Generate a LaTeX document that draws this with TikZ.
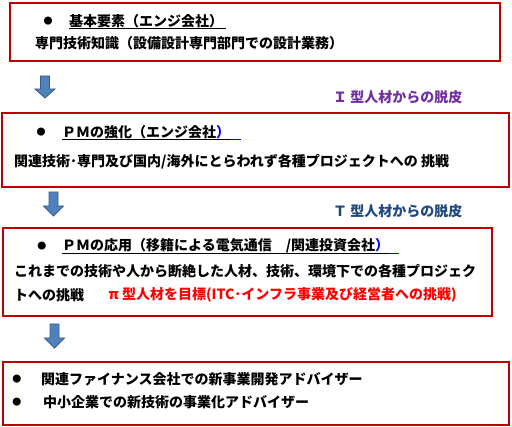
\documentclass[tikz,border=0pt]{standalone}
\usepackage{fontspec}
\setmainfont{Noto Sans CJK JP}
\usetikzlibrary{positioning}
\definecolor{boxred}{RGB}{192,0,0}
\definecolor{arrfill}{RGB}{79,129,189}
\definecolor{arrline}{RGB}{56,93,138}
\definecolor{lblpurple}{RGB}{112,48,160}
\definecolor{lblblue}{RGB}{31,73,125}
\definecolor{parenblue}{RGB}{0,0,255}
\tikzset{redbox/.style={draw=boxred, line width=2.5pt},
  blkarrow/.style={fill=arrfill, draw=arrline, line width=0.8pt},
  txt/.style={anchor=west, inner sep=0pt, font=\bfseries\fontsize{14}{16}\selectfont},
  bul/.style={inner sep=0pt, font=\fontsize{9}{10}\selectfont},
  uline/.style={line width=0.7pt}}

\begin{document}
\begin{tikzpicture}[x=1pt, y=-1pt]
  \useasboundingbox (0,0) rectangle (512,427);

  \draw[redbox] (10,3) rectangle (500,61);
  \node[bul] (b1dot) at (48,21) {●};
  \node[txt] (b1head) at (69,21) {基本要素（エンジ会社）};
  \draw[uline] (b1head.south west) -- ([xshift=3pt]b1head.south east);
  \node[txt] (b1line) at (35,43) {専門技術知識（設備設計専門部門での設計業務）};

  \draw[blkarrow] (40.5,76) -- ++(9,0) -- ++(0,13) -- ++(5.5,0) -- ++(-10,9) -- ++(-10,-9) -- ++(5.5,0) -- cycle;
  \node[txt, text=lblpurple] (lbl1) at (333,97) {Ｉ 型人材からの脱皮};

  \draw[redbox] (2,113) rectangle (509,187);
  \node[bul] (b2dot) at (41,132) {●};
  \node[txt] (b2head) at (62,132) {ＰＭの強化（エンジ会社\textcolor{parenblue}{）}};
  \draw[uline] (b2head.south west) -- (b2head.south east);
  \draw[uline, parenblue] (b2head.south east) -- ++(11,0);
  \node[txt] (b2line) at (14,162) {関連技術･専門及び国内/海外にとらわれず各種プロジェクトへの 挑戦};

  \draw[blkarrow] (49,192) -- ++(9,0) -- ++(0,14) -- ++(5.5,0) -- ++(-10,10) -- ++(-10,-10) -- ++(5.5,0) -- cycle;
  \node[txt, text=lblblue] (lbl2) at (333,211) {Ｔ 型人材からの脱皮};

  \draw[redbox] (3,228) rectangle (492,316);
  \node[bul] (b3dot) at (42,246) {●};
  \node[txt] (b3head) at (62,246) {ＰＭの応用（移籍による電気通信　/関連投資会社\textcolor{parenblue}{）}};
  \draw[uline] (b3head.south west) -- (b3head.south east);
  \draw[uline, parenblue] (b3head.south east) -- ++(10,0);
  \node[txt] (b3line) at (14,271) {これまでの技術や人から断絶した人材、技術、環境下での各種プロジェク};
  \node[txt] (b3tail) at (14,295) {トへの挑戦};
  \node[txt, text=red, right=24pt of b3tail] (b3goal) {π 型人材を目標(ITC･インフラ事業及び経営者への挑戦)};

  \draw[blkarrow] (50,324) -- ++(9,0) -- ++(0,14) -- ++(5.5,0) -- ++(-10,10) -- ++(-10,-10) -- ++(5.5,0) -- cycle;

  \draw[redbox] (3,362) rectangle (509,425);
  \node[bul] (b4dota) at (17,379) {●};
  \node[txt] (b4linea) at (41,379) {関連ファイナンス会社での新事業開発アドバイザー};
  \node[bul] (b4dotb) at (17,402) {●};
  \node[txt] (b4lineb) at (43,402) {中小企業での新技術の事業化アドバイザー};
\end{tikzpicture}
\end{document}
